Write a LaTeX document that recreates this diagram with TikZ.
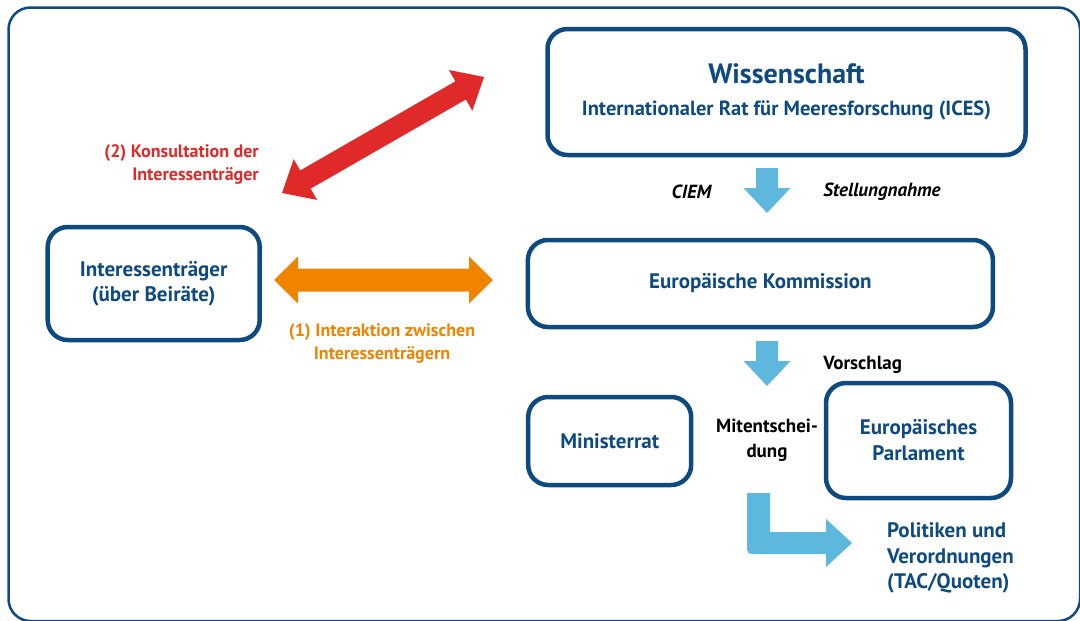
\documentclass[tikz,border=0pt]{standalone}
\usepackage{fontspec}
\setmainfont{PT Sans}
\definecolor{dunkelblau}{RGB}{14,74,130}
\definecolor{hellblau}{RGB}{94,184,222}
\definecolor{konsrot}{RGB}{224,41,41}
\definecolor{interorange}{RGB}{240,131,0}

\begin{document}
\begin{tikzpicture}[x=1pt,y=-1pt,
 kasten/.style={draw=dunkelblau, line width=4.5pt, rounded corners=20pt, text=dunkelblau,
  font=\fontsize{21}{25}\selectfont\bfseries, align=center, inner sep=0pt},
 marke/.style={font=\fontsize{18}{23}\selectfont\bfseries, inner sep=0pt},
 schwarzmarke/.style={font=\fontsize{19}{25}\selectfont\bfseries, inner sep=0pt}]
\useasboundingbox (0,0) rectangle (1080,621);
\draw[dunkelblau, line width=2.5pt, rounded corners=22pt] (8.5,7.5) rectangle (1080,621);

% Kaesten
\node[kasten, minimum width=478pt, minimum height=126pt] (wiss) at (786.5,92)
 {{\fontsize{28}{30}\selectfont Wissenschaft}\\[7pt] {\fontsize{20.5}{24}\selectfont Internationaler Rat für Meeresforschung (ICES)}};
\node[kasten, minimum width=212pt, minimum height=113pt] (inter) at (153.7,283.5) {Interessenträger\\(über Beiräte)};
\node[kasten, minimum width=465pt, minimum height=87pt] (komm) at (760.4,283.5) {Europäische Kommission};
\node[kasten, minimum width=163pt, minimum height=88pt] (minist) at (609.7,441) {Ministerrat};
\node[kasten, font=\fontsize{21}{26}\selectfont\bfseries, minimum width=185pt, minimum height=115pt] (parl) at (918.5,440.5) {Europäisches\\Parlament};

% Doppelpfeile
\coordinate (rotA) at (282,193);
\begin{scope}[shift={(rotA)}, rotate=29.87]
\fill[konsrot] (0,0) -- (27,23.5) -- (27,10.5) -- (206,10.5) -- (206,23.5) -- (233,0)
 -- (206,-23.5) -- (206,-10.5) -- (27,-10.5) -- (27,-23.5) -- cycle;
\end{scope}
\coordinate (orA) at (274,280);
\begin{scope}[shift={(orA)}]
\fill[interorange] (0,0) -- (24,-23.5) -- (24,-11.5) -- (195,-11.5) -- (195,-23.5) -- (219,0)
 -- (195,23.5) -- (195,11.5) -- (24,11.5) -- (24,23.5) -- cycle;
\end{scope}
\node[marke, text=konsrot, align=right, anchor=east] (konslabel) at (259,164) {(2) Konsultation der\\Interessenträger};
\node[marke, text=interorange, align=center] (interlabel) at (382,343) {(1) Interaktion zwischen\\Interessenträgern};

% Pfeile nach unten
\foreach \y in {168,341} {
 \fill[hellblau] (756,\y) -- (778,\y) -- (778,\y+20) -- (790.5,\y+20) -- (767,\y+45)
  -- (743.5,\y+20) -- (756,\y+20) -- cycle;
}
\node[schwarzmarke, font=\fontsize{19}{23}\selectfont\bfseries\itshape] (ciem) at (691.5,192) {CIEM};
\node[schwarzmarke, font=\fontsize{19}{23}\selectfont\bfseries\itshape] (stell) at (882,192) {Stellungnahme};
\node[schwarzmarke] (vorschlag) at (862.6,365) {Vorschlag};
\node[schwarzmarke, align=center] (mitent) at (767,440) {Mitentschei-\\dung};

% Knickpfeil
\fill[hellblau] (747,493) -- (770,493) -- (770,532) -- (826,532) -- (826,519) -- (852,543)
 -- (826,567) -- (826,554) -- (757,554) .. controls (747,554) .. (747,544) -- cycle;
\node[marke, text=dunkelblau, font=\fontsize{21}{25.5}\selectfont\bfseries, align=left, anchor=west] (politik) at (887,558)
 {Politiken und\\Verordnungen\\(TAC/Quoten)};
\end{tikzpicture}
\end{document}
